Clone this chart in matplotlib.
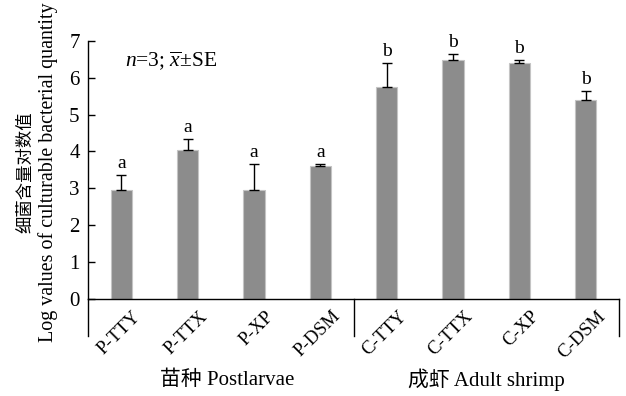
import matplotlib
matplotlib.use("Agg")
import matplotlib.pyplot as plt
from matplotlib.lines import Line2D
from matplotlib.transforms import ScaledTranslation
import numpy as np

categories = ["P-TTY", "P-TTX", "P-XP", "P-DSM", "C-TTY", "C-TTX", "C-XP", "C-DSM"]
means = [2.94, 4.04, 2.94, 3.61, 5.76, 6.49, 6.39, 5.39]
se = [0.41, 0.30, 0.72, 0.05, 0.65, 0.16, 0.09, 0.26]
letters = ["a", "a", "a", "a", "b", "b", "b", "b"]
groups = ["苗种 Postlarvae", "成虾 Adult shrimp"]
yticks = [0, 1, 2, 3, 4, 5, 6, 7]

serif = ["Liberation Serif", "Noto Sans CJK SC"]
plt.rcParams["font.family"] = serif
plt.rcParams["mathtext.fontset"] = "custom"
plt.rcParams["mathtext.rm"] = "Liberation Serif"
plt.rcParams["mathtext.it"] = "Liberation Serif:italic"

fig = plt.figure(figsize=(6.26, 3.96), dpi=100)
ax = fig.add_axes([88/626, 1-298.7/396, (619-88)/626, (298.7-41)/396])

x = np.arange(len(categories))
ax.bar(x, means, width=0.32, color="#8c8c8c", edgecolor="#c4c4c4", linewidth=0.8, zorder=2)
ax.errorbar(x, means, yerr=[np.zeros(len(se)), se], fmt="none", ecolor="black",
            elinewidth=1.0, capsize=3.5, capthick=1.0, zorder=3)
for xi, m, s, l in zip(x, means, se, letters):
    ax.text(xi, m + s + 0.08, l, ha="center", va="bottom", fontsize=14)

ax.set_xlim(-0.5, 7.5)
ax.set_ylim(0, 7)
ax.set_yticks(yticks)
ax.set_yticklabels([str(t) for t in yticks], fontsize=15)
ax.set_xticks(x)
ax.set_xticklabels([])
shift = ScaledTranslation(11/100, -9/100, fig.dpi_scale_trans)
for xi, c in zip(x, categories):
    ax.text(xi, 0, c, rotation=45, ha="right", va="top", fontsize=13.5,
            rotation_mode="anchor", transform=ax.get_xaxis_transform() + shift)
ax.tick_params(axis="y", direction="in", length=5, width=1, pad=6)
ax.tick_params(axis="x", direction="in", length=6, width=1)
for s in ["top", "right"]:
    ax.spines[s].set_visible(False)
ax.spines["left"].set_linewidth(1)
ax.spines["bottom"].set_linewidth(1)

# extended axis lines below zero
ext = (336 - 298.7) / (298.7 - 41)
for xa in [0.0, 1.0]:
    ax.add_line(Line2D([xa, xa], [0, -ext], transform=ax.transAxes, color="black",
                       lw=1, clip_on=False))
sep = (3.5 + 0.5) / 8.0
ax.add_line(Line2D([sep, sep], [0, -ext], transform=ax.transAxes, color="black",
                   lw=1, clip_on=False))

fig.text(125/626, 1-61/396, r"$\mathit{n}$=3; $\overline{\mathit{x}}$±SE",
         ha="left", va="center", fontsize=15.5)

fig.text(227/626, 1-380/396, groups[0], ha="center", va="center", fontsize=15)
fig.text(486/626, 1-380/396, groups[1], ha="center", va="center", fontsize=15)

fig.text(25/626, 1-172/396, "细菌含量对数值", rotation=90, ha="center", va="center",
         fontsize=12.5, family=["Noto Sans CJK SC"])
fig.text(48/626, 1-172/396, "Log values of culturable bacterial quantity", rotation=90,
         ha="center", va="center", fontsize=14.4)

fig.savefig("out.png", dpi=100)
